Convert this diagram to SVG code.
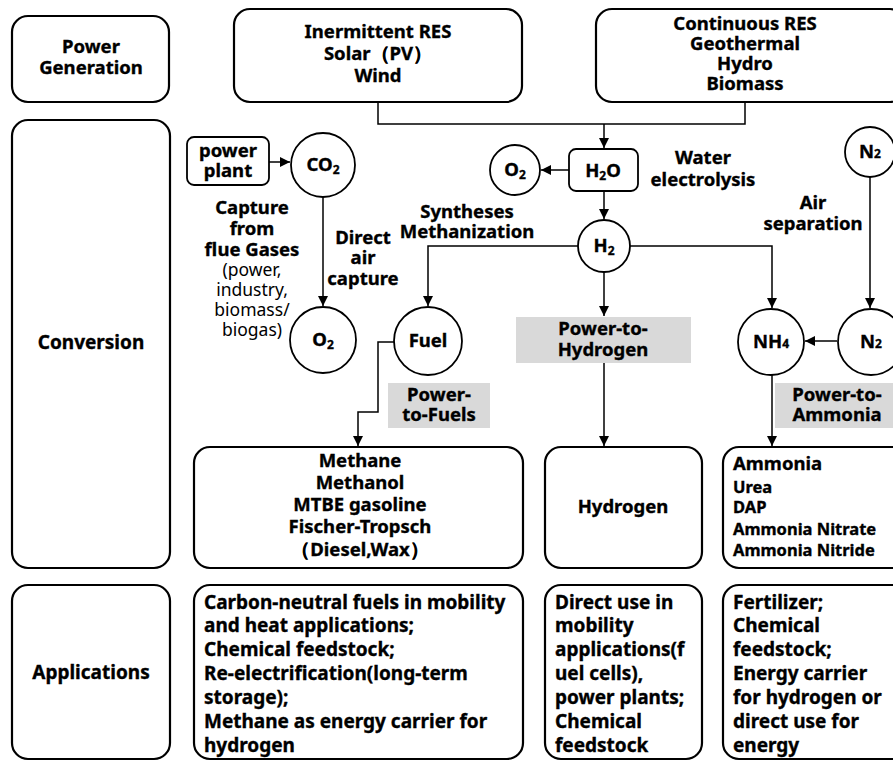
<svg xmlns="http://www.w3.org/2000/svg" width="893" height="762" viewBox="0 0 893 762">
<style>
.box{fill:#fff;stroke:#000;stroke-width:2.2}
.circ{fill:#fff;stroke:#000;stroke-width:1.8}
.gray{fill:#d9d9d9;stroke:none}
.t{font-family:"Noto Sans","Open Sans","Liberation Sans",sans-serif;font-weight:bold;font-size:18.5px;fill:#000;stroke:#000;stroke-width:0.35}
.c{text-anchor:middle}
.n{font-weight:normal;stroke-width:0;font-size:17.5px}
.s{font-size:12px}
.sm{font-size:16.5px}
.ap{font-size:19px}
.ln{fill:none;stroke:#000;stroke-width:1.5}
</style>
<defs>
<marker id="ah" viewBox="0 0 10 10" refX="10" refY="5" markerWidth="10" markerHeight="10" markerUnits="userSpaceOnUse" orient="auto">
<path d="M0,0 L10,5 L0,10 z" fill="#000"/>
</marker>
</defs>

<g id="connectors">
<path class="ln" d="M378,102 V124 H745 V102"/>
<path class="ln" d="M604,124 V148" marker-end="url(#ah)"/>
<path class="ln" d="M569,170 H541" marker-end="url(#ah)"/>
<path class="ln" d="M604,191 V219" marker-end="url(#ah)"/>
<path class="ln" d="M269,162 H290" marker-end="url(#ah)"/>
<path class="ln" d="M323,197 V306" marker-end="url(#ah)"/>
<path class="ln" d="M578,246 H428 V306" marker-end="url(#ah)"/>
<path class="ln" d="M630,246 H772 V308" marker-end="url(#ah)"/>
<path class="ln" d="M604,272 V316" marker-end="url(#ah)"/>
<path class="ln" d="M870,177 V308" marker-end="url(#ah)"/>
<path class="ln" d="M837,341 H805" marker-end="url(#ah)"/>
<path class="ln" d="M395,342 H378 V412 H358 V446" marker-end="url(#ah)"/>
<path class="ln" d="M604,363 V446" marker-end="url(#ah)"/>
<path class="ln" d="M772,375 V446" marker-end="url(#ah)"/>
</g>

<g id="power-generation">
<rect class="box" x="12" y="16" width="157" height="86" rx="16"/>
<text class="t c" x="91" y="53">Power</text>
<text class="t c" x="91" y="74">Generation</text>
</g>
<g id="conversion">
<rect class="box" x="12" y="120" width="158" height="448" rx="16"/>
<text class="t c" x="91" y="349" style="font-size:19px">Conversion</text>
</g>
<g id="applications">
<rect class="box" x="12" y="585" width="158" height="174" rx="16"/>
<text class="t c" x="91" y="679" style="font-size:19px">Applications</text>
</g>

<g id="intermittent-res">
<rect class="box" x="234" y="9" width="288" height="93" rx="16"/>
<text class="t c" x="378" y="38">Inermittent RES</text>
<text class="t c" x="378" y="60">Solar（PV）</text>
<text class="t c" x="378" y="82">Wind</text>
</g>
<g id="continuous-res">
<rect class="box" x="596" y="9" width="310" height="93" rx="16"/>
<text class="t c" x="745" y="30">Continuous RES</text>
<text class="t c" x="745" y="50">Geothermal</text>
<text class="t c" x="745" y="70">Hydro</text>
<text class="t c" x="745" y="90">Biomass</text>
</g>

<g id="power-plant">
<rect class="box" x="187" y="137" width="82" height="48" rx="7" style="stroke-width:1.8"/>
<text class="t c" x="228" y="157">power</text>
<text class="t c" x="228" y="177">plant</text>
</g>
<g id="co2">
<circle class="circ" cx="323" cy="165" r="32"/>
<text class="t c" x="323" y="171">CO<tspan class="s" dy="3">2</tspan></text>
</g>
<g id="o2-top">
<circle class="circ" cx="515" cy="170" r="25"/>
<text class="t c" x="515" y="176">O<tspan class="s" dy="3">2</tspan></text>
</g>
<g id="h2o">
<rect class="box" x="569" y="149" width="69" height="42" rx="7" style="stroke-width:1.8"/>
<text class="t c" x="603" y="177">H<tspan class="s" dy="3">2</tspan><tspan dy="-3">O</tspan></text>
</g>
<g id="h2">
<circle class="circ" cx="604" cy="246" r="26"/>
<text class="t c" x="604" y="252">H<tspan class="s" dy="3">2</tspan></text>
</g>
<g id="n2-top">
<circle class="circ" cx="870" cy="152" r="25"/>
<text class="t c" x="870" y="158">N<tspan class="s">2</tspan></text>
</g>
<g id="o2-bottom">
<circle class="circ" cx="323" cy="340" r="33"/>
<text class="t c" x="323" y="346">O<tspan class="s" dy="3">2</tspan></text>
</g>
<g id="fuel">
<circle class="circ" cx="428" cy="341" r="34"/>
<text class="t c" x="428" y="347">Fuel</text>
</g>
<g id="nh4">
<circle class="circ" cx="771" cy="342" r="33"/>
<text class="t c" x="771" y="348">NH<tspan class="s">4</tspan></text>
</g>
<g id="n2-bottom">
<circle class="circ" cx="871" cy="342" r="33"/>
<text class="t c" x="871" y="348">N<tspan class="s">2</tspan></text>
</g>

<g id="labels">
<text class="t c" x="252" y="214">Capture</text>
<text class="t c" x="252" y="235">from</text>
<text class="t c" x="252" y="256">flue Gases</text>
<text class="t c n" x="252" y="276" fill="#1c2333">(power,</text>
<text class="t c n" x="252" y="296" fill="#1c2333">industry,</text>
<text class="t c n" x="252" y="316" fill="#1c2333">biomass/</text>
<text class="t c n" x="252" y="336" fill="#1c2333">biogas)</text>
<text class="t c" x="363" y="244">Direct</text>
<text class="t c" x="363" y="264">air</text>
<text class="t c" x="363" y="285">capture</text>
<text class="t c" x="467" y="218">Syntheses</text>
<text class="t c" x="467" y="238">Methanization</text>
<text class="t c" x="703" y="164">Water</text>
<text class="t c" x="703" y="186">electrolysis</text>
<text class="t c" x="813" y="209">Air</text>
<text class="t c" x="813" y="230">separation</text>
</g>

<g id="power-to-fuels">
<rect class="gray" x="388" y="383" width="102" height="45"/>
<text class="t c" x="439" y="401">Power-</text>
<text class="t c" x="439" y="421">to-Fuels</text>
</g>
<g id="power-to-hydrogen">
<rect class="gray" x="516" y="317" width="175" height="46"/>
<text class="t c" x="603" y="335">Power-to-</text>
<text class="t c" x="603" y="356">Hydrogen</text>
</g>
<g id="power-to-ammonia">
<rect class="gray" x="775" y="383" width="118" height="45"/>
<text class="t c" x="837" y="401">Power-to-</text>
<text class="t c" x="837" y="421">Ammonia</text>
</g>

<g id="fuels-box">
<rect class="box" x="194" y="447" width="329" height="121" rx="16"/>
<text class="t c" x="360" y="467">Methane</text>
<text class="t c" x="360" y="489">Methanol</text>
<text class="t c" x="360" y="511">MTBE gasoline</text>
<text class="t c" x="360" y="533">Fischer-Tropsch</text>
<text class="t c" x="360" y="556">（Diesel,Wax）</text>
</g>
<g id="hydrogen-box">
<rect class="box" x="545" y="447" width="157" height="121" rx="16"/>
<text class="t c" x="623" y="513">Hydrogen</text>
</g>
<g id="ammonia-box">
<rect class="box" x="723" y="447" width="190" height="121" rx="16"/>
<text class="t" x="733" y="470">Ammonia</text>
<text class="t sm" x="733" y="493">Urea</text>
<text class="t sm" x="733" y="513">DAP</text>
<text class="t sm" x="733" y="535">Ammonia Nitrate</text>
<text class="t sm" x="733" y="556">Ammonia Nitride</text>
</g>

<g id="fuels-apps">
<rect class="box" x="194" y="585" width="329" height="174" rx="16"/>
<text class="t ap" x="204" y="609">Carbon-neutral fuels in mobility</text>
<text class="t ap" x="204" y="632">and heat applications;</text>
<text class="t ap" x="204" y="656">Chemical feedstock;</text>
<text class="t ap" x="204" y="680">Re-electrification(long-term</text>
<text class="t ap" x="204" y="704">storage);</text>
<text class="t ap" x="204" y="728">Methane as energy carrier for</text>
<text class="t ap" x="204" y="752">hydrogen</text>
</g>
<g id="hydrogen-apps">
<rect class="box" x="545" y="585" width="157" height="174" rx="16"/>
<text class="t ap" x="555" y="609">Direct use in</text>
<text class="t ap" x="555" y="632">mobility</text>
<text class="t ap" x="555" y="656">applications(f</text>
<text class="t ap" x="555" y="680">uel cells),</text>
<text class="t ap" x="555" y="704">power plants;</text>
<text class="t ap" x="555" y="728">Chemical</text>
<text class="t ap" x="555" y="752">feedstock</text>
</g>
<g id="ammonia-apps">
<rect class="box" x="723" y="585" width="190" height="174" rx="16"/>
<text class="t ap" x="733" y="609">Fertilizer;</text>
<text class="t ap" x="733" y="632">Chemical</text>
<text class="t ap" x="733" y="656">feedstock;</text>
<text class="t ap" x="733" y="680">Energy carrier</text>
<text class="t ap" x="733" y="704">for hydrogen or</text>
<text class="t ap" x="733" y="728">direct use for</text>
<text class="t ap" x="733" y="752">energy</text>
</g>
</svg>
